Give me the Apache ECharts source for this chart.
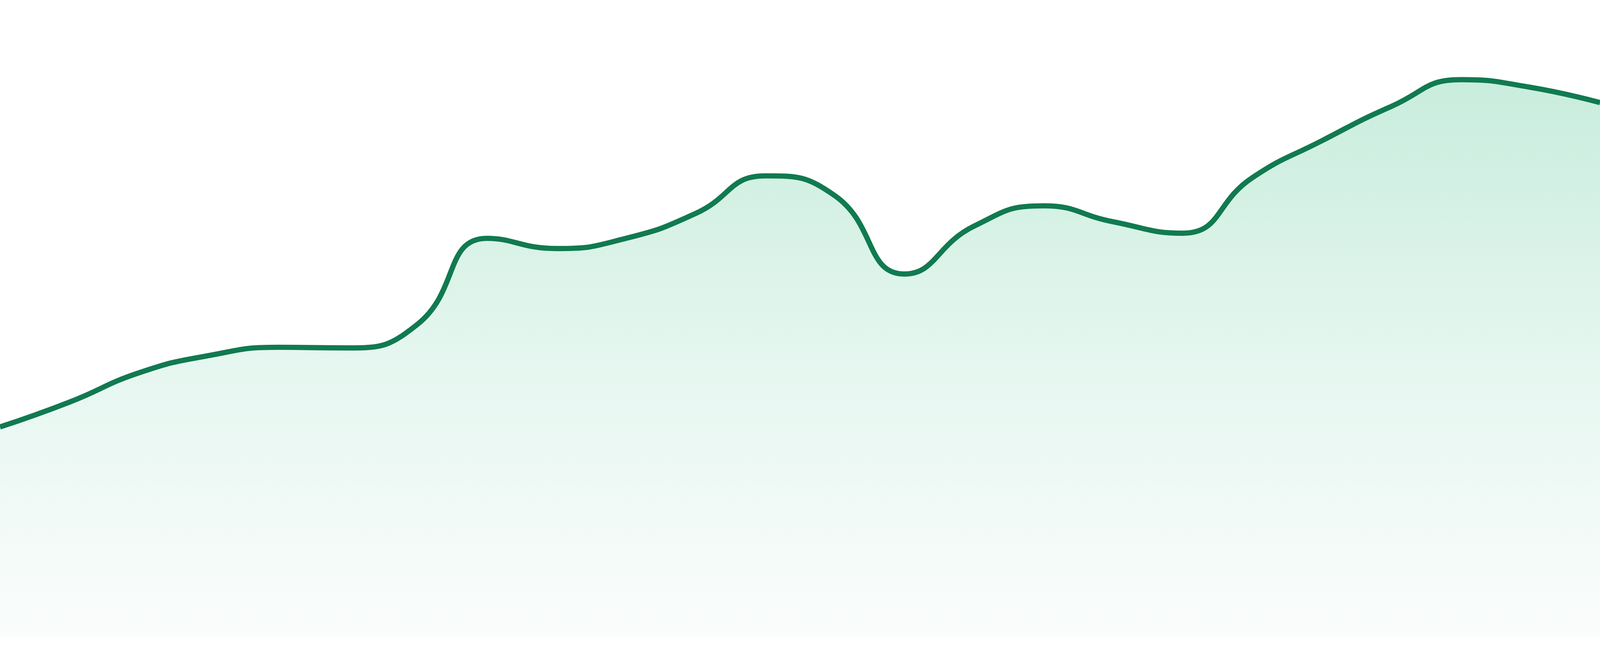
<!DOCTYPE html>
<html>
<head>
<meta charset="utf-8">
<script src="https://cdn.jsdelivr.net/npm/echarts@6/dist/echarts.min.js"></script>
<style>
  html, body { margin: 0; padding: 0; background: #fff; width: 100%; height: 100%; overflow: hidden; }
  #chart { width: 100vw; height: 100vh; }
</style>
</head>
<body>
<div id="chart"></div>
<script>
// hourly points, 24 of them
var hours = ['00', '01', '02', '03', '04', '05', '06', '07', '08', '09', '10', '11',
             '12', '13', '14', '15', '16', '17', '18', '19', '20', '21', '22', '23'];
var values = [33.0, 36.9, 41.5, 44.2, 45.5, 45.4, 49.1, 62.6, 61.0, 62.6, 66.5, 72.4,
              69.3, 57.0, 64.5, 67.7, 65.2, 63.4, 72.1, 77.9, 83.3, 87.5, 86.3, 83.9];
var yMin = 0;
var yMax = 100;

var chart = echarts.init(document.getElementById('chart'));

function buildOption() {
    // line is about 15.7px on a 4800px wide picture, keep that ratio
    var lw = chart.getWidth() * 15.7 / 4800;
    return {
        animation: false,
        grid: { left: 0, right: 0, top: 0, bottom: '2.86%' },
        xAxis: {
            type: 'category',
            boundaryGap: false,
            data: hours,
            show: false
        },
        yAxis: {
            type: 'value',
            min: yMin,
            max: yMax,
            show: false,
            splitLine: { show: false }
        },
        series: [{
            type: 'line',
            data: values,
            smooth: true,
            showSymbol: false,
            lineStyle: { color: '#117a50', width: lw },
            itemStyle: { color: '#117a50' },
            areaStyle: {
                color: new echarts.graphic.LinearGradient(0, 0, 0, 1, [
                    { offset: 0, color: '#b0e4ce' },
                    { offset: 0.5, color: '#d9f2e8' },
                    { offset: 1, color: '#f8fbfa' }
                ])
            }
        }]
    };
}

chart.setOption(buildOption());
window.addEventListener('resize', function () {
    chart.resize();
    chart.setOption(buildOption());
});
</script>
</body>
</html>
